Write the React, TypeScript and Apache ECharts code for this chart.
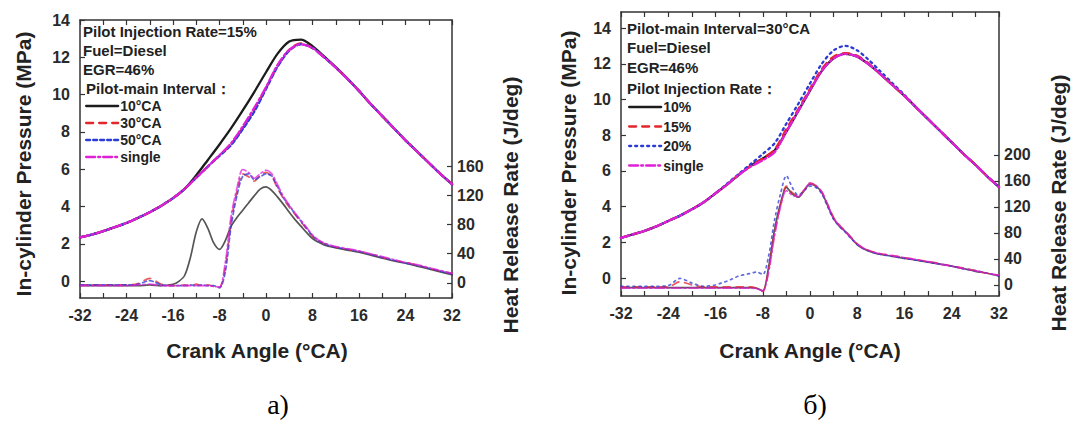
import React, { useEffect, useRef } from "react";
import * as echarts from "echarts";

// ---------- data ----------
const P_ANGLES = [-32,-30,-28,-26,-24,-22,-20,-18,-16,-14,-12,-10,-8,-6,-4,-2,0,2,4,6,8,10,12,14,16,18,20,22,24,26,28,30,32];
const H_ANGLES = [-32,-30,-28,-26,-24,-22,-20,-18,-16,-15,-14,-13,-12,-11,-10,-9,-8,-7,-6,-5,-4,-3,-2,-1,0,1,2,3,4,5,6,7,8,9,10,11,12,14,16,18,20,22,24,26,28,30,32];

// panel а) pressure (MPa)
const A_P_10 = [2.35,2.5,2.68,2.9,3.12,3.4,3.7,4.05,4.45,4.95,5.68,6.5,7.33,8.2,9.15,10.15,11.2,12.2,12.85,12.95,12.6,12.05,11.47,10.86,10.2,9.5,8.85,8.2,7.55,6.95,6.35,5.75,5.2];
const A_P_30 = [2.35,2.5,2.68,2.9,3.12,3.4,3.7,4.05,4.45,4.95,5.55,6.15,6.75,7.35,8.2,9.2,10.35,11.55,12.4,12.75,12.5,12.0,11.45,10.85,10.2,9.5,8.85,8.2,7.55,6.95,6.35,5.75,5.2];
const A_P_50 = [2.35,2.5,2.68,2.9,3.12,3.4,3.7,4.05,4.45,4.95,5.55,6.15,6.72,7.3,8.15,9.1,10.3,11.5,12.35,12.7,12.5,12.0,11.45,10.85,10.2,9.5,8.85,8.2,7.55,6.95,6.35,5.75,5.2];
const A_P_SINGLE = [2.35,2.5,2.68,2.9,3.12,3.4,3.7,4.05,4.45,4.95,5.55,6.15,6.75,7.4,8.3,9.3,10.4,11.6,12.4,12.7,12.5,12.0,11.45,10.85,10.2,9.5,8.85,8.2,7.55,6.95,6.35,5.75,5.2];

// panel а) heat release rate (J/deg)
const A_H_10 = [-4,-4,-4,-4,-4,-4,-3,-4,-2,2,10,35,70,88,75,55,46,58,78,90,100,110,120,129,132,127,118,108,97,87,78,69,61,56,52,50,48,45,42,38,34,30,27,23,19,15,11];
const A_H_30 = [-3,-3,-3,-3,-3,-1,6,-2,-4,-4,-3,-4,-2,-4,-3,-5,-6,22,85,125,150,146,140,148,152,146,130,116,104,94,84,74,64,58,54,51,49,46,43,39,35,31,28,24,20,16,13];
const A_H_50 = [-3,-3,-3,-3,-3,-2,3,-3,-4,-4,-4,-3,-4,-3,-4,-4,-7,15,78,120,147,150,142,146,150,147,132,117,106,95,85,75,65,58,54,51,49,46,43,39,35,31,27,24,20,16,12];
const A_H_SINGLE = [-4,-4,-4,-4,-4,-3,-2,-4,-4,-4,-4,-4,-4,-4,-4,-5,-6,28,92,130,156,152,144,150,155,150,135,119,107,96,86,76,66,59,55,52,50,47,44,40,36,32,28,25,21,17,13];

// panel б) pressure (MPa)
const B_P_10 = [2.25,2.45,2.65,2.9,3.2,3.5,3.85,4.25,4.75,5.25,5.8,6.3,6.7,7.15,8.2,9.35,10.5,11.6,12.3,12.55,12.4,11.95,11.4,10.8,10.2,9.55,8.9,8.25,7.6,6.95,6.35,5.7,5.1];
const B_P_15 = [2.25,2.45,2.65,2.9,3.2,3.5,3.85,4.25,4.75,5.25,5.8,6.3,6.7,7.2,8.35,9.45,10.6,11.7,12.4,12.6,12.45,12.0,11.4,10.8,10.2,9.55,8.9,8.25,7.6,6.95,6.35,5.7,5.1];
const B_P_20 = [2.25,2.45,2.65,2.9,3.2,3.5,3.85,4.25,4.75,5.3,5.85,6.4,6.95,7.55,8.65,9.75,10.9,12.0,12.75,13.0,12.75,12.2,11.55,10.9,10.25,9.55,8.9,8.25,7.6,6.95,6.35,5.7,5.1];
const B_P_SINGLE = [2.25,2.45,2.65,2.9,3.2,3.5,3.85,4.25,4.75,5.25,5.8,6.25,6.6,7.05,8.2,9.35,10.5,11.6,12.3,12.55,12.4,11.95,11.4,10.8,10.2,9.55,8.9,8.25,7.6,6.95,6.35,5.7,5.1];

// panel б) heat release rate (J/deg)
const B_H_10 = [-4,-4,-4,-4,-4,-4,-4,-4,-4,-4,-4,-4,-4,-4,-4,-5,-9,28,85,125,150,140,135,145,155,152,142,122,102,90,82,72,62,56,52,49,47,44,41,38,35,32,29,25,21,18,14];
const B_H_15 = [-3,-3,-3,-3,-3,5,0,-3,-3,-3,-3,-3,-3,-3,-3,-5,-10,24,80,122,152,142,137,146,157,153,143,124,104,92,83,73,63,57,53,50,48,45,42,39,36,33,29,26,22,18,15];
const B_H_20 = [-2,-2,-2,-2,-1,10,3,-2,0,3,6,10,14,16,18,20,16,45,100,140,168,150,138,145,152,150,140,120,101,90,81,71,62,56,52,49,47,44,41,38,35,32,29,25,22,18,14];
const B_H_SINGLE = [-5,-5,-5,-5,-5,-5,-5,-5,-5,-5,-5,-5,-5,-5,-5,-6,-9,20,75,120,145,138,136,146,156,153,143,123,103,91,82,72,63,57,53,50,48,45,42,39,36,32,29,25,22,18,15];

const X_UNIT = "°CA";
const P_TICKS = [0, 2, 4, 6, 8, 10, 12, 14];
const A_H_TICKS = [0, 40, 80, 120, 160];
const B_H_TICKS = [0, 40, 80, 120, 160, 200];

const A_NAMES = ["10°CA", "30°CA", "50°CA", "single"];
const B_NAMES = ["10%", "15%", "20%", "single"];
const A_INFO = ["Pilot Injection Rate=15%", "Fuel=Diesel", "EGR=46%", "Pilot-main Interval："];
const B_INFO = ["Pilot-main Interval=30°CA", "Fuel=Diesel", "EGR=46%", "Pilot Injection Rate："];

// ---------- styles ----------
const FONT = "'Liberation Sans', Arial, sans-serif";
const BLACK = "#1c1c1c";
const RED = "#e3262b";
const BLUE = "#2b3bd6";
const MAGENTA = "#e01fd6";

function pairs(xs: number[], ys: number[]) {
  return xs.map((x, i) => [x, ys[i]]);
}

export default function App() {
  const ref = useRef<HTMLDivElement>(null);
  useEffect(() => {
    if (!ref.current) return;
    const chart = echarts.init(ref.current, undefined, { renderer: "svg" });

    const axisLine = { show: true, onZero: false, lineStyle: { color: "#333", width: 1.5 } };
    const labelStyle = { fontSize: 16, fontWeight: "bold", color: "#2a2a2a", fontFamily: FONT };
    const tickStyle = { color: "#333", width: 1.2 };

    const xBottom = (grid: number) => ({
      type: "value", gridIndex: grid, position: "bottom", min: -32, max: 32, interval: 8,
      axisLine, axisTick: { inside: true, length: 5, lineStyle: tickStyle },
      minorTick: { show: true, splitNumber: 2, length: 5, lineStyle: tickStyle },
      axisLabel: { ...labelStyle, margin: 9 }, splitLine: { show: false }, minorSplitLine: { show: false },
    });
    const xTop = (grid: number) => ({
      type: "value", gridIndex: grid, position: "top", min: -32, max: 32, interval: 8,
      axisLine, axisTick: { inside: true, length: 5, lineStyle: tickStyle },
      minorTick: { show: true, splitNumber: 2, length: 5, lineStyle: tickStyle },
      axisLabel: { show: false }, splitLine: { show: false },
    });
    const yLeft = (grid: number, min: number, max: number) => ({
      type: "value", gridIndex: grid, position: "left", min, max,
      axisLine, axisTick: { inside: true, length: 5, customValues: P_TICKS, lineStyle: tickStyle },
      axisLabel: { ...labelStyle, margin: 10, customValues: P_TICKS }, splitLine: { show: false },
    });
    const yRight = (grid: number, min: number, max: number, ticks: number[]) => ({
      type: "value", gridIndex: grid, position: "right", min, max,
      axisLine, axisTick: { inside: true, length: 5, customValues: ticks, lineStyle: tickStyle },
      axisLabel: { ...labelStyle, margin: 5, customValues: ticks }, splitLine: { show: false },
    });

    const styles = [
      { color: BLACK, type: "solid" as any },
      { color: RED, type: [7, 6] as any },
      { color: BLUE, type: [4, 3] as any },
      { color: MAGENTA, type: [9, 3, 2, 3] as any },
    ];
    const stylesB = [
      { color: BLACK, type: "solid" as any },
      { color: RED, type: [7, 6] as any },
      { color: BLUE, type: [2, 4] as any },
      { color: MAGENTA, type: [9, 3, 2, 3] as any },
    ];

    const mk = (name: string, data: number[][], xi: number, yi: number, st: any, width: number, opacity: number) => ({
      type: "line", name, data, xAxisIndex: xi, yAxisIndex: yi, showSymbol: false, symbol: "none",
      smooth: 0.3, lineStyle: { color: st.color, type: st.type, width, opacity, cap: "round" },
      itemStyle: { color: st.color }, z: 2,
    });

    const aP = [A_P_10, A_P_30, A_P_50, A_P_SINGLE];
    const aH = [A_H_10, A_H_30, A_H_50, A_H_SINGLE];
    const bP = [B_P_10, B_P_15, B_P_20, B_P_SINGLE];
    const bH = [B_H_10, B_H_15, B_H_20, B_H_SINGLE];
    const aIds = A_NAMES.map((n) => "a:" + n);
    const bIds = B_NAMES.map((n) => "b:" + n);

    const series: any[] = [];
    for (let i = 0; i < 4; i++) {
      series.push(mk(aIds[i], pairs(P_ANGLES, aP[i]), 0, 0, styles[i], 2.3, 1));
      series.push(mk(aIds[i], pairs(H_ANGLES, aH[i]), 0, 1, styles[i], 1.7, 0.75));
      series.push(mk(bIds[i], pairs(P_ANGLES, bP[i]), 2, 2, stylesB[i], 2.3, 1));
      series.push(mk(bIds[i], pairs(H_ANGLES, bH[i]), 2, 3, stylesB[i], 1.7, 0.75));
    }

    const legendBase = {
      orient: "vertical", itemWidth: 32, itemHeight: 14, padding: 0,
      itemStyle: { opacity: 0, borderWidth: 0 },
      lineStyle: { width: 2.3 },
      textStyle: { fontSize: 14, fontWeight: "bold", color: "#222", fontFamily: FONT, padding: [0, 0, 0, -3] },
      formatter: (n: string) => n.slice(2), selectedMode: false,
    };

    const txt = (text: string, x: number, y: number, size: number, extra: any = {}) => ({
      type: "text", x, y, rotation: extra.rotation || 0, silent: true,
      style: {
        text, fill: extra.fill || "#222",
        font: `${extra.weight || "bold"} ${size}px ${extra.family || FONT}`,
        textAlign: extra.align || "left", align: extra.align || "left",
        textVerticalAlign: "middle", verticalAlign: "middle",
      },
    });

    const infoA = A_INFO.map((t, i) => txt(t, i === 3 ? 86 : 83, [31, 50, 69, 88][i], 15));
    const infoB = B_INFO.map((t, i) => txt(t, 627, [28, 47, 67, 88][i], 15));

    chart.setOption({
      animation: false,
      backgroundColor: "#ffffff",
      grid: [
        { left: 80, top: 20, width: 372, height: 278 },
        { left: 621, top: 12, width: 378, height: 284 },
      ],
      xAxis: [xBottom(0), xTop(0), xBottom(1), xTop(1)],
      yAxis: [
        yLeft(0, -0.9, 14),
        yRight(0, -21, 362, A_H_TICKS),
        yLeft(1, -1, 14.9),
        yRight(1, -17, 420, B_H_TICKS),
      ],
      legend: [
        { ...legendBase, data: aIds, left: 85, top: 99, itemGap: 3 },
        { ...legendBase, data: bIds, left: 628, top: 100, itemGap: 5.5 },
      ],
      graphic: [
        ...infoA,
        ...infoB,
        txt("In-cylinder Pressure (MPa)", 23, 164, 21, { rotation: Math.PI / 2, align: "center" }),
        txt("In-cylinder Pressure (MPa)", 568, 163, 21, { rotation: Math.PI / 2, align: "center" }),
        txt("Heat Release Rate (J/deg)", 510, 205, 21, { rotation: Math.PI / 2, align: "center" }),
        txt("Heat Release Rate (J/deg)", 1058, 203, 21, { rotation: Math.PI / 2, align: "center" }),
        txt("Crank Angle (" + X_UNIT + ")", 257, 350, 21, { align: "center" }),
        txt("Crank Angle (" + X_UNIT + ")", 810, 350, 21, { align: "center" }),
        txt("а)", 278, 404, 28, { align: "center", weight: "normal", family: "'Liberation Serif', 'DejaVu Serif', serif", fill: "#000" }),
        txt("б)", 815, 404, 28, { align: "center", weight: "normal", family: "'Liberation Serif', 'DejaVu Serif', serif", fill: "#000" }),
      ],
      series,
    } as any);

    return () => chart.dispose();
  }, []);

  return (
    <div
      ref={ref}
      style={{ position: "fixed", left: 0, top: 0, width: 1071, height: 430, background: "#fff" }}
    />
  );
}
